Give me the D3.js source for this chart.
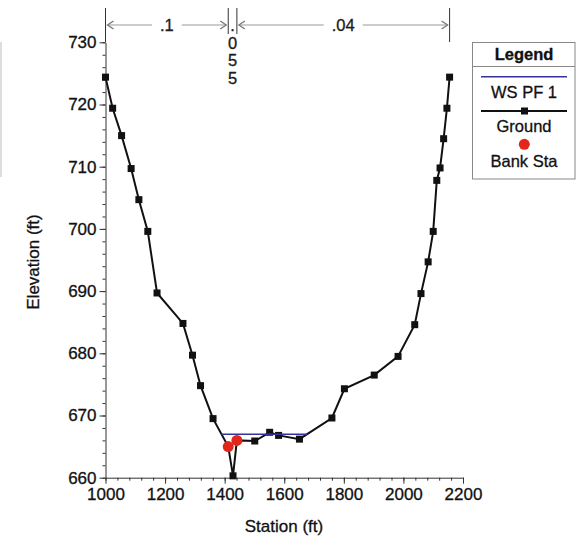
<!DOCTYPE html>
<html>
<head>
<meta charset="utf-8">
<script src="https://cdn.jsdelivr.net/npm/d3@7"></script>
<style>
  body { margin: 0; background: #fff; }
  svg { display: block; font-family: "Liberation Sans", Arial, sans-serif; }
  text { stroke: #111; stroke-width: 0.3; }
</style>
</head>
<body>
<svg></svg>
<script>

// ground profile, station (ft) and elevation (ft)
var groundSta = [1000, 1024, 1054, 1086, 1112, 1142, 1173, 1260, 1292, 1319, 1361, 1412, 1428, 1441, 1501, 1551, 1581, 1651, 1760, 1802, 1902, 1982, 2038, 2059, 2083, 2100, 2112, 2123, 2135, 2146, 2155]
var groundElev = [724.4, 719.4, 715.0, 709.7, 704.7, 699.6, 689.7, 684.8, 679.7, 674.8, 669.5, 665.0, 660.3, 666.0, 665.9, 667.3, 666.8, 666.2, 669.6, 674.3, 676.5, 679.5, 684.6, 689.6, 694.7, 699.6, 707.8, 709.8, 714.5, 719.4, 724.4]

// water surface
var wsSta = [1389, 1677]
var wsElev = [667.0, 667.0]

// bank stations
var bankSta = [1412, 1441]
var bankElev = [665.0, 666.0]

// manning's n
var nBreaks = [1000, 1412, 1441, 2155]
var nValues = [".1", ".055", ".04"]

var xTicks = [1000, 1200, 1400, 1600, 1800, 2000, 2200]
var yTicks = [660, 670, 680, 690, 700, 710, 720, 730]

var legendItems = ["WS PF 1", "Ground", "Bank Sta"]


var svg = d3.select("svg")
    .attr("width", 579)
    .attr("height", 539);

var x = d3.scaleLinear().domain([1000, 2200]).range([105.5, 463]);
var y = d3.scaleLinear().domain([660, 730]).range([477.7, 42.3]);

//assi: tacche principali
svg.append("g")
    .attr("transform", "translate(0,477.7)")
    .call(d3.axisBottom(x).tickValues(xTicks).tickFormat(d3.format("d")).tickSize(6).tickSizeOuter(0).tickPadding(4))
    .call(function (g) { g.selectAll("text").attr("font-size", 17).attr("fill", "#111").attr("font-family", null); });

svg.append("g")
    .attr("transform", "translate(105.5,0)")
    .call(d3.axisLeft(y).tickValues(yTicks).tickFormat(d3.format("d")).tickSize(6).tickSizeOuter(0).tickPadding(3))
    .call(function (g) { g.selectAll("text").attr("font-size", 17).attr("fill", "#111").attr("font-family", null); });

//tacche secondarie
svg.append("g")
    .attr("transform", "translate(0,477.7)")
    .call(d3.axisBottom(x).tickValues(d3.range(1000, 2201, 40)).tickSize(3).tickFormat(""))
    .call(function (g) { g.select(".domain").remove(); });

svg.append("g")
    .attr("transform", "translate(105.5,0)")
    .call(d3.axisLeft(y).tickValues(d3.range(660, 731, 2)).tickSize(3).tickFormat(""))
    .call(function (g) { g.select(".domain").remove(); });

svg.selectAll(".domain, .tick line").attr("stroke", "#333");

//etichette assi
svg.append("text")
    .attr("x", 284)
    .attr("y", 532)
    .attr("text-anchor", "middle")
    .attr("font-size", 17)
    .attr("fill", "#111")
    .text("Station (ft)");

svg.append("text")
    .attr("transform", "translate(39,262) rotate(-90)")
    .attr("text-anchor", "middle")
    .attr("font-size", 17)
    .attr("fill", "#111")
    .text("Elevation (ft)");

//linee di separazione n di manning
svg.selectAll(".nline")
    .data(nBreaks)
    .enter()
    .append("line")
    .attr("x1", function (d) { return x(d); })
    .attr("x2", function (d) { return x(d); })
    .attr("y1", 8)
    .attr("y2", function (d, i) { return (i == 0 || i == nBreaks.length - 1) ? 42 : 34; })
    .attr("stroke", "#333")
    .attr("stroke-width", 1);

function arrowHead(px, dir) {
    // dir = 1 punta a destra, -1 a sinistra
    return "M" + (px - dir * 6) + "," + 21 + " L" + px + "," + 25 + " L" + (px - dir * 6) + "," + 29;
}

nValues.forEach(function (n, i) {
    var x0 = x(nBreaks[i]), x1 = x(nBreaks[i + 1]);
    if (n.length > 2 && x1 - x0 < 20) {
        //testo verticale se lo spazio e' stretto
        n.split("").forEach(function (c, k) {
            svg.append("text")
                .attr("x", (x0 + x1) / 2)
                .attr("y", 31 + k * 17.5)
                .attr("text-anchor", "middle")
                .attr("font-size", 16.5)
                .attr("fill", "#222")
                .text(c);
        });
        return;
    }
    var mid = (x0 + x1) / 2;
    var t = svg.append("text")
        .attr("x", mid)
        .attr("y", 31)
        .attr("text-anchor", "middle")
        .attr("font-size", 16.5)
        .attr("fill", "#222")
        .text(n);
    var w = t.node().getComputedTextLength() / 2 + 8;
    svg.append("line").attr("x1", x0 + 2).attr("x2", mid - w).attr("y1", 25).attr("y2", 25).attr("stroke", "#999");
    svg.append("line").attr("x1", mid + w).attr("x2", x1 - 2).attr("y1", 25).attr("y2", 25).attr("stroke", "#999");
    svg.append("path").attr("d", arrowHead(x0 + 2, -1)).attr("fill", "none").attr("stroke", "#777").attr("stroke-width", 1.3);
    svg.append("path").attr("d", arrowHead(x1 - 2, 1)).attr("fill", "none").attr("stroke", "#777").attr("stroke-width", 1.3);
});

//terreno
var line = d3.line()
    .x(function (d) { return x(d[0]); })
    .y(function (d) { return y(d[1]); });

var ground = d3.zip(groundSta, groundElev);

svg.append("path")
    .datum(ground)
    .attr("d", line)
    .attr("fill", "none")
    .attr("stroke", "#111")
    .attr("stroke-width", 2);

svg.selectAll(".gpt")
    .data(ground)
    .enter()
    .append("rect")
    .attr("x", function (d) { return x(d[0]) - 3.5; })
    .attr("y", function (d) { return y(d[1]) - 3.5; })
    .attr("width", 7)
    .attr("height", 7)
    .attr("fill", "#111");

//pelo libero
svg.append("path")
    .datum(d3.zip(wsSta, wsElev))
    .attr("d", line)
    .attr("fill", "none")
    .attr("stroke", "#33339a")
    .attr("stroke-width", 1.5);

//sponde
svg.selectAll(".bank")
    .data(d3.zip(bankSta, bankElev))
    .enter()
    .append("circle")
    .attr("cx", function (d) { return x(d[0]); })
    .attr("cy", function (d) { return y(d[1]); })
    .attr("r", 5.5)
    .attr("fill", "#e3261b");

//legenda
var lg = svg.append("g");
lg.append("rect")
    .attr("x", 472.5).attr("y", 42.5)
    .attr("width", 102.5).attr("height", 136.5)
    .attr("fill", "#fff").attr("stroke", "#888");
lg.append("line")
    .attr("x1", 472.5).attr("x2", 575)
    .attr("y1", 66.5).attr("y2", 66.5)
    .attr("stroke", "#888");
lg.append("text")
    .attr("x", 524).attr("y", 59.5)
    .attr("text-anchor", "middle")
    .attr("font-size", 16.5).attr("font-weight", "bold")
    .attr("fill", "#111")
    .text("Legend");

lg.append("line").attr("x1", 481).attr("x2", 567).attr("y1", 76.7).attr("y2", 76.7)
    .attr("stroke", "#33339a").attr("stroke-width", 1.5);
lg.append("line").attr("x1", 481).attr("x2", 567).attr("y1", 111).attr("y2", 111)
    .attr("stroke", "#111").attr("stroke-width", 2);
lg.append("rect").attr("x", 521).attr("y", 107.5).attr("width", 7).attr("height", 7).attr("fill", "#111");
lg.append("circle").attr("cx", 524.3).attr("cy", 144.3).attr("r", 5.5).attr("fill", "#e3261b");

lg.selectAll(".ltxt")
    .data(legendItems)
    .enter()
    .append("text")
    .attr("x", 524)
    .attr("y", function (d, i) { return 97.5 + i * 34.5; })
    .attr("text-anchor", "middle")
    .attr("font-size", 16.5)
    .attr("fill", "#111")
    .text(function (d) { return d; });

//bordo grigio a sinistra
svg.append("line")
    .attr("x1", 1).attr("x2", 1).attr("y1", 42).attr("y2", 177)
    .attr("stroke", "#bbb");

</script>
</body>
</html>
